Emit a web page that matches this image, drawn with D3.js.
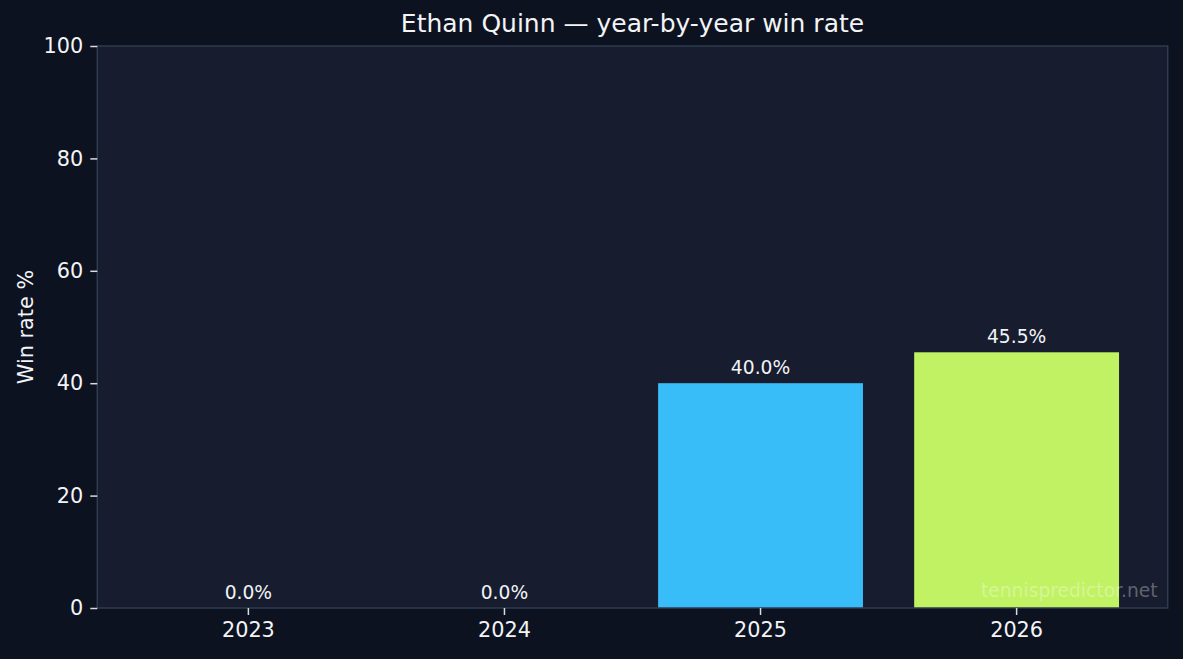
<!DOCTYPE html>
<html>
<head>
<meta charset="utf-8">
<script src="https://cdn.jsdelivr.net/npm/d3@7"></script>
<style>
  html, body { margin: 0; padding: 0; background: #0d1220; }
  svg { display: block; font-family: "DejaVu Sans", sans-serif; }
</style>
</head>
<body>
<div id="chart"></div>
<script>
// data
const years = ["2023", "2024", "2025", "2026"];
const winRates = [0.0, 0.0, 40.0, 45.5];
const barColors = ["#38bdf8", "#38bdf8", "#38bdf8", "#c1f264"];
const yTicks = [0, 20, 40, 60, 80, 100];

const W = 1183, H = 659;
const margin = {top: 46, right: 15.3, bottom: 51, left: 97.3};
const width = W - margin.left - margin.right,
      height = H - margin.top - margin.bottom;

const svg = d3.select("#chart")
  .append("svg")
    .attr("width", W)
    .attr("height", H);

svg.append("rect")
  .attr("width", W).attr("height", H)
  .attr("fill", "#0d1220");

const g = svg.append("g")
  .attr("transform", "translate(" + margin.left + "," + margin.top + ")");

// plot background
g.append("rect")
  .attr("width", width).attr("height", height)
  .attr("fill", "#171c2e");

let x = d3.scaleBand()
  .domain(years)
  .range([0, width])
  .paddingInner(0.2)
  .paddingOuter(0.19);

let y = d3.scaleLinear()
  .domain([0, 100])
  .range([height, 0]);

// bars
g.append("g")
  .selectAll("rect")
  .data(years)
  .enter()
  .append("rect")
    .attr("x", d => x(d))
    .attr("width", x.bandwidth())
    .attr("y", (d, i) => y(winRates[i]))
    .attr("height", (d, i) => y(0) - y(winRates[i]))
    .attr("fill", (d, i) => barColors[i]);

// value labels
g.append("g")
  .selectAll("text")
  .data(years)
  .enter()
  .append("text")
    .attr("x", d => x(d) + x.bandwidth() / 2)
    .attr("y", (d, i) => y(winRates[i]) - 9)
    .attr("text-anchor", "middle")
    .attr("fill", "#f1f3f7")
    .attr("font-size", 18.7)
    .text((d, i) => winRates[i].toFixed(1) + "%");

// frame
g.append("rect")
  .attr("width", width).attr("height", height)
  .attr("fill", "none")
  .attr("stroke", "#2f3b4f")
  .attr("stroke-width", 1.5);

// axes
const xAxis = g.append("g")
  .attr("transform", "translate(0," + height + ")")
  .call(d3.axisBottom(x).tickSize(7).tickPadding(7));

const yAxis = g.append("g")
  .call(d3.axisLeft(y).tickValues(yTicks).tickSize(7).tickPadding(7));

[xAxis, yAxis].forEach(a => {
  a.select(".domain").remove();
  a.selectAll(".tick line").attr("stroke", "#d8dbe2").attr("stroke-width", 1.5);
  a.selectAll(".tick text")
    .attr("fill", "#f3f4f6")
    .attr("font-size", 20.8)
    .attr("font-family", "DejaVu Sans");
});

// y label
svg.append("text")
  .attr("transform", "translate(33," + (margin.top + height / 2) + ") rotate(-90)")
  .attr("text-anchor", "middle")
  .attr("fill", "#f3f4f6")
  .attr("font-size", 20.8)
  .text("Win rate %");

// title
svg.append("text")
  .attr("x", margin.left + width / 2)
  .attr("y", 32)
  .attr("text-anchor", "middle")
  .attr("fill", "#f3f4f6")
  .attr("font-size", 25)
  .text("Ethan Quinn — year-by-year win rate");

// watermark
svg.append("text")
  .attr("x", margin.left + width - 10)
  .attr("y", 597)
  .attr("text-anchor", "end")
  .attr("fill", "#ffffff")
  .attr("fill-opacity", 0.32)
  .attr("font-size", 18.7)
  .text("tennispredictor.net");
</script>
</body>
</html>
